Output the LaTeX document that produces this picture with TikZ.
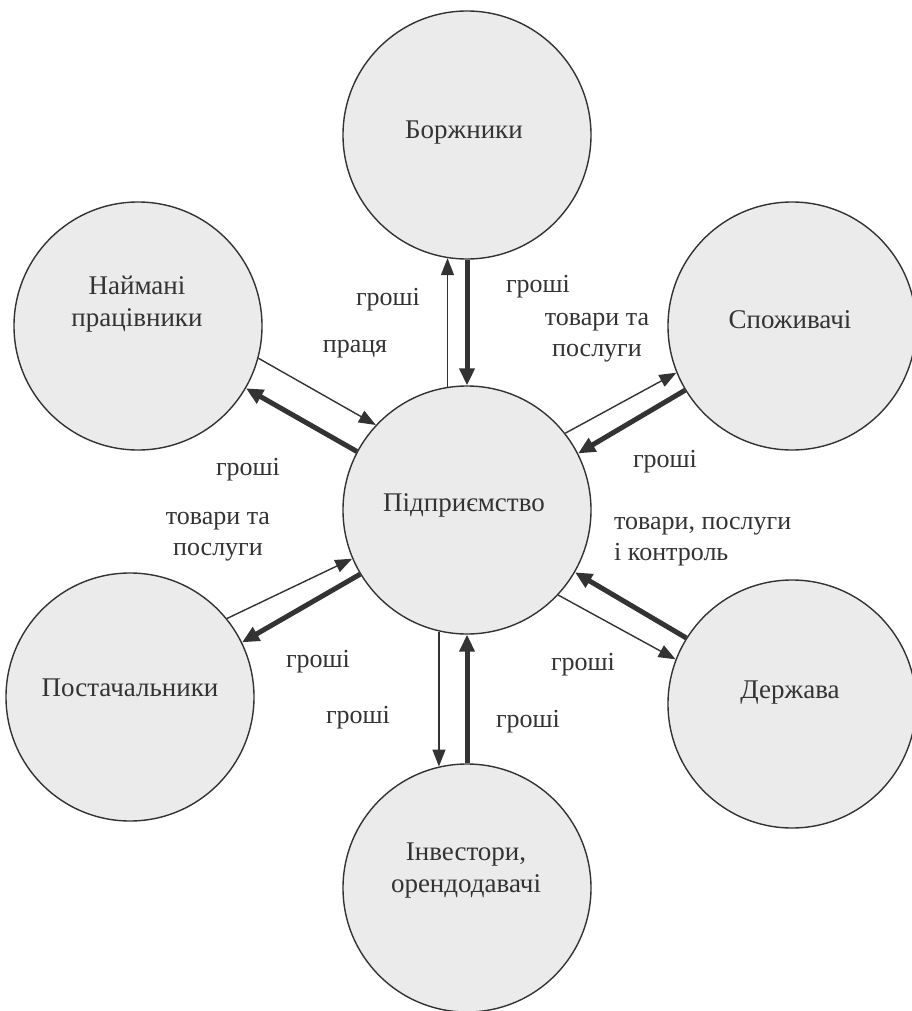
\documentclass[tikz,border=0pt]{standalone}
\usepackage{fontspec}
\setmainfont{Liberation Serif}
\usetikzlibrary{arrows.meta}
\definecolor{ink}{HTML}{333333}
\definecolor{disc}{HTML}{EBEBEB}
\tikzset{
  party/.style={circle, draw=ink, line width=1.4pt, fill=disc, minimum size=248pt, inner sep=0pt},
  ctext/.style={text=ink, font=\fontsize{27}{32}\selectfont, align=center, inner sep=0pt},
  lab/.style={text=ink, font=\fontsize{26}{31}\selectfont, align=center, inner sep=0pt},
  thinarr/.style={draw=ink, line width=1.4pt, -{Triangle[length=17pt,width=13pt]}},
  thickarr/.style={draw=ink, line width=5pt, -{Triangle[length=17pt,width=15pt]}}
}
\begin{document}
\begin{tikzpicture}[x=1pt, y=-1pt]
\useasboundingbox (0,0) rectangle (912,1011);
\fill[white] (0,0) rectangle (912,1011);
% circles
\node[party] (E) at (467,510) {};
\node[party] (B) at (467,135) {};
\node[party] (C) at (792,326) {};
\node[party] (W) at (138,326) {};
\node[party] (S) at (130,697) {};
\node[party] (D) at (792,704) {};
\node[party] (I) at (467,888) {};
% circle texts
\node[ctext] (Et) at (464,505) {Підприємство};
\node[ctext] (Bt) at (464,133) {Боржники};
\node[ctext] (Ct) at (790,320) {Споживачі};
\node[ctext] (Wt) at (137,304) {Наймані\\працівники};
\node[ctext] (St) at (130,688) {Постачальники};
\node[ctext] (Dt) at (790,693) {Держава};
\node[ctext] (It) at (466,871) {Інвестори,\\орендодавачі};
% connectors
\draw[thinarr] (E.99) -- (B.261);
\draw[thickarr] (B.270) -- (E.90);
\draw[thinarr] (E.257) -- (I.103);
\draw[thickarr] (I.90) -- (E.270);
\draw[thinarr] (W.345) -- (E.137);
\draw[thickarr] (E.152) -- (W.330);
\draw[thinarr] (E.38) -- (C.202);
\draw[thickarr] (C.211) -- (E.27);
\draw[thinarr] (S.39) -- (E.203);
\draw[thickarr] (E.211) -- (S.26);
\draw[thickarr] (D.148) -- (E.330);
\draw[thinarr] (E.317) -- (D.159);
% labels
\node[lab] (l1) at (388,300) {гроші};
\node[lab] (l2) at (538,287) {гроші};
\node[lab] (l3) at (355,349) {праця};
\node[lab] (l4) at (597,338) {товари та\\послуги};
\node[lab] (l5) at (665,462) {гроші};
\node[lab] (l6) at (248,470) {гроші};
\node[lab] (l7) at (218,537) {товари та\\послуги};
\node[lab, align=left, anchor=west] (l8) at (614,542) {товари, послуги\\і контроль};
\node[lab] (l9) at (318,662) {гроші};
\node[lab] (l10) at (583,665) {гроші};
\node[lab] (l11) at (358,718) {гроші};
\node[lab] (l12) at (528,722) {гроші};
\end{tikzpicture}
\end{document}
